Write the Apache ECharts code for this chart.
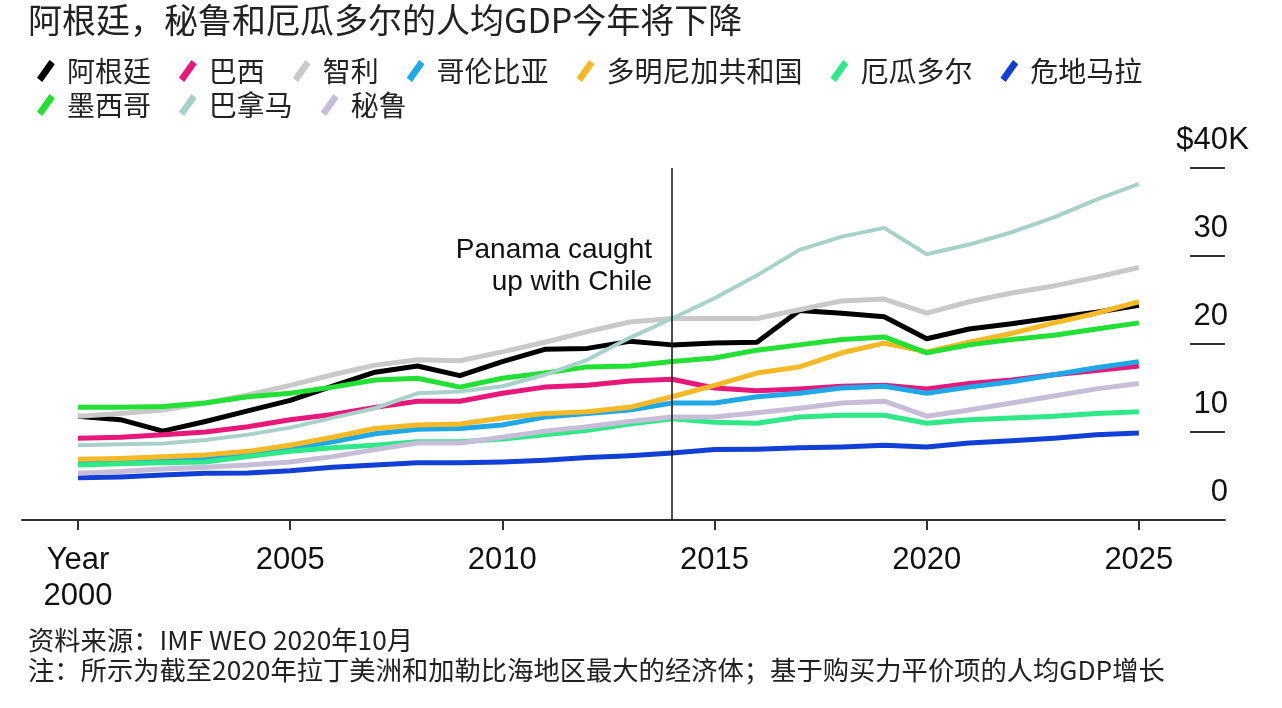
<!DOCTYPE html>
<html><head><meta charset="utf-8">
<script src="https://cdn.jsdelivr.net/npm/echarts@6/dist/echarts.min.js"></script>
<style>html,body{margin:0;padding:0;background:#fff}#c{width:1282px;height:708px}</style>
</head><body><div id="c"></div>
<script>
const years = [2000,2001,2002,2003,2004,2005,2006,2007,2008,2009,2010,2011,2012,2013,2014,2015,2016,2017,2018,2019,2020,2021,2022,2023,2024,2025];
const argentina = [11.8,11.4,10.1,11.2,12.4,13.6,15.2,16.8,17.5,16.4,18.0,19.4,19.5,20.3,19.9,20.1,20.2,23.8,23.5,23.1,20.6,21.7,22.3,23.0,23.6,24.4];
const brazil    = [9.3,9.4,9.7,10.0,10.6,11.4,12.0,12.8,13.5,13.5,14.4,15.1,15.3,15.8,16.0,15.0,14.7,14.9,15.2,15.3,14.9,15.5,15.9,16.5,17.0,17.5];
const chile     = [11.8,12.1,12.5,13.3,14.2,15.3,16.5,17.6,18.2,18.1,19.1,20.2,21.4,22.5,22.9,22.9,22.9,23.9,24.9,25.1,23.5,24.8,25.8,26.6,27.6,28.7];
const colombia  = [6.7,6.8,6.9,7.1,7.5,8.1,8.9,9.8,10.3,10.4,10.8,11.7,12.1,12.5,13.3,13.3,14.0,14.4,15.0,15.2,14.4,15.1,15.7,16.5,17.3,18.0];
const dominican = [6.9,7.0,7.2,7.4,7.8,8.5,9.4,10.4,10.8,10.9,11.6,12.1,12.3,12.8,14.0,15.3,16.7,17.4,19.0,20.1,19.1,20.2,21.2,22.4,23.5,24.8];
const ecuador   = [6.25,6.4,6.5,6.6,7.2,7.8,8.2,8.5,8.9,8.9,9.2,9.7,10.2,10.9,11.5,11.1,11.0,11.7,11.9,11.9,11.0,11.4,11.6,11.8,12.1,12.3];
const guatemala = [4.8,4.9,5.1,5.3,5.35,5.6,6.0,6.25,6.5,6.5,6.6,6.8,7.1,7.3,7.6,8.0,8.05,8.2,8.3,8.5,8.3,8.75,9.0,9.3,9.7,9.9];
const mexico    = [12.8,12.8,12.9,13.3,14.0,14.4,15.1,15.9,16.1,15.1,16.1,16.7,17.4,17.5,18.0,18.4,19.3,19.9,20.5,20.8,19.0,19.9,20.5,21.0,21.7,22.4];
const panama    = [8.5,8.6,8.7,9.1,9.7,10.5,11.6,12.7,14.4,14.6,15.2,16.5,18.2,20.7,22.9,25.2,27.8,30.7,32.2,33.2,30.2,31.3,32.7,34.4,36.4,38.2];
const peru      = [5.3,5.5,5.8,6.0,6.25,6.6,7.2,8.0,8.75,8.75,9.4,10.1,10.6,11.2,11.7,11.7,12.2,12.7,13.3,13.5,11.8,12.5,13.3,14.1,14.9,15.5];

const xTicks = [2000,2005,2010,2015,2020,2025];
const yTicks = [0,10,20,30,40];
const markYear = 2014;

const names = ['阿根廷','巴西','智利','哥伦比亚','多明尼加共和国','厄瓜多尔','危地马拉','墨西哥','巴拿马','秘鲁'];
const values = [argentina,brazil,chile,colombia,dominican,ecuador,guatemala,mexico,panama,peru];
const colors = ['#000000','#e8177a','#c9c9c9','#1fa8e8','#f5b925','#2fe887','#1240d6','#22e034','#a9d1cb','#c8bdd8'];
const widths = [5,5,5,5,5,5,5,5,4,5];

const CJK = "'Noto Sans CJK SC', sans-serif";
const LAT = "'Liberation Sans', Arial, sans-serif";
const slash = 'path://M0,17 L12,0 L17,4 L5,21 Z';

const series = names.map((n,i)=>({
  name:n, type:'line', symbol:'none', showSymbol:false, color:colors[i],
  lineStyle:{width:widths[i], color:colors[i], join:'round'},
  itemStyle:{color:colors[i]},
  emphasis:{disabled:true}, silent:true,
  data: years.map((y,j)=>[y, values[i][j]])
}));
series[0].markLine = {
  symbol:'none', silent:true, label:{show:false},
  lineStyle:{color:'#111', width:1.5, type:'solid'},
  data:[{xAxis:markYear}]
};

const legendBase = {
  orient:'horizontal', left:32, icon:slash, itemWidth:20, itemHeight:22, itemGap:28,
  itemStyle:{borderWidth:0},
  textStyle:{fontSize:28, fontFamily:CJK, color:'#222', padding:[0,0,0,6]},
  selectedMode:false
};

const chart = echarts.init(document.getElementById('c'));
chart.setOption({
  animation:false,
  backgroundColor:'#ffffff',
  title:[
    {text:'阿根廷，秘鲁和厄瓜多尔的人均GDP今年将下降', left:28, top:3, padding:0,
     textStyle:{fontSize:34, fontWeight:'normal', color:'#222', fontFamily:CJK}},
    {text:'资料来源：IMF WEO 2020年10月', left:28, top:627, padding:0,
     textStyle:{fontSize:26.3, fontWeight:'normal', color:'#222', fontFamily:CJK}},
    {text:'注：所示为截至2020年拉丁美洲和加勒比海地区最大的经济体；基于购买力平价项的人均GDP增长', left:28, top:657, padding:0,
     textStyle:{fontSize:26.3, fontWeight:'normal', color:'#222', fontFamily:CJK}}
  ],
  legend:[
    Object.assign({}, legendBase, {top:52, data:names.slice(0,7)}),
    Object.assign({}, legendBase, {top:86, data:names.slice(7)})
  ],
  grid:{left:22, right:57, top:168, bottom:188, containLabel:false},
  xAxis:{
    type:'value', min:1998.68, max:2027.03,
    splitLine:{show:false},
    axisLine:{show:true, lineStyle:{color:'#333', width:2}},
    axisTick:{show:true, customValues:xTicks, length:10, lineStyle:{color:'#333', width:2}},
    axisLabel:{customValues:xTicks, margin:22, fontSize:31, lineHeight:36, color:'#111', fontFamily:LAT,
      verticalAlign:'top',
      formatter:v=> v===2000 ? 'Year\n2000' : String(v)}
  },
  yAxis:{
    type:'value', position:'right', min:0, max:40, interval:10,
    splitLine:{show:false},
    axisLine:{show:false},
    axisTick:{show:true, inside:true, length:35, lineStyle:{color:'#333', width:2}},
    axisLabel:{inside:true, margin:-24, fontSize:31, lineHeight:32, color:'#111', fontFamily:LAT,
      verticalAlign:'bottom', padding:[0,0,12,0],
      formatter:v=> v===40 ? '$40{k|K}' : String(v) + '{k| }',
      rich:{k:{fontSize:31, fontFamily:LAT, color:'#111', width:21, lineHeight:32, align:'right'}}}
  },
  graphic:[{
    type:'text', x:652, y:234, silent:true,
    style:{text:'Panama caught\nup with Chile', font:'28px '+LAT, fill:'#111', align:'right', verticalAlign:'top', lineHeight:32}
  }],
  series: series
});
</script>
</body></html>
